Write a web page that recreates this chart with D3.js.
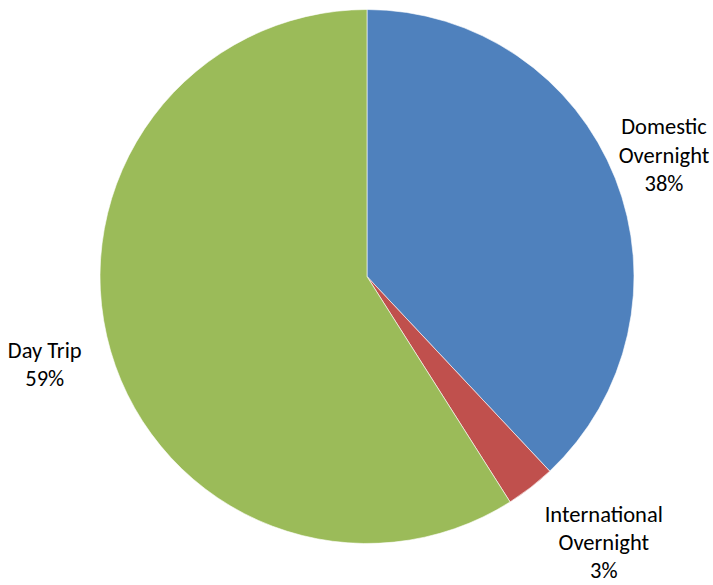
<!DOCTYPE html>
<html>
<head>
<meta charset="utf-8">
<script src="https://cdn.jsdelivr.net/npm/d3@7/dist/d3.min.js"></script>
<style>
  html, body { margin: 0; padding: 0; background: #fff; }
  svg text { font-family: Carlito, Calibri, Lato, "Open Sans", sans-serif; font-size: 22.5px; fill: #000; }
</style>
</head>
<body>
<svg id="chart" width="713" height="585"></svg>
<script>
// Trip type shares
const categories = ["Domestic Overnight", "International Overnight", "Day Trip"];
const shares = [38, 3, 59];
const colors = ["#4F81BD", "#C0504D", "#9BBB59"];
// Label text lines per slice
const labelLines = [["Domestic", "Overnight", "38%"], ["International", "Overnight", "3%"], ["Day Trip", "59%"]];
// Label placement: radius from centre and angle tweak (radians)
const labelRadius = [321, 356, 334];
const labelAngleShift = [-0.012, -0.068, 0.017];

const svg = d3.select("#chart");
const cx = 367, cy = 276.5, r = 267;
const g = svg.append("g").attr("transform", `translate(${cx},${cy})`);

const pie = d3.pie().sort(null).value(d => d)(shares);
const arc = d3.arc().innerRadius(0).outerRadius(r);

g.selectAll("path.slice")
  .data(pie)
  .join("path")
  .attr("class", "slice")
  .attr("d", arc)
  .attr("fill", (d, i) => colors[i])
  .attr("stroke", "#ffffff")
  .attr("stroke-width", 0.6);

const lineH = 28.2;
g.selectAll("text.lbl")
  .data(pie)
  .join("text")
  .attr("class", "lbl")
  .attr("text-anchor", "middle")
  .each(function (d, i) {
    const a = (d.startAngle + d.endAngle) / 2 + labelAngleShift[i];
    const x = labelRadius[i] * Math.sin(a);
    const y = -labelRadius[i] * Math.cos(a);
    const lines = labelLines[i];
    const y0 = y - (lines.length - 1) * lineH / 2;
    d3.select(this).selectAll("tspan")
      .data(lines)
      .join("tspan")
      .attr("x", x)
      .attr("y", (t, k) => y0 + k * lineH)
      .attr("dy", "0.35em")
      .text(t => t);
  });
</script>
</body>
</html>
